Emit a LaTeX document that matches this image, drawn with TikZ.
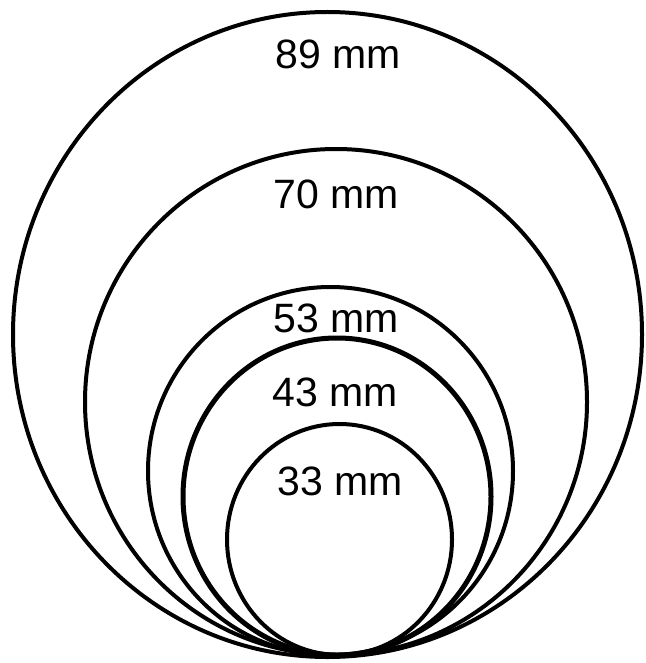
\documentclass[tikz,border=0pt]{standalone}
\usepackage{fontspec}
\setmainfont{Liberation Sans}
\begin{document}
\begin{tikzpicture}[x=1pt,y=-1pt,
  ring/.style={draw=black,line width=4pt},
  thickring/.style={draw=black,line width=5pt},
  lbl/.style={inner sep=0pt,font=\fontsize{41}{48}\selectfont}]
\useasboundingbox (0,0) rectangle (645,663);
\fill[white] (0,0) rectangle (645,663);
\draw[ring] (327.5,334.5) ellipse [x radius=314.5, y radius=322.5];
\draw[ring] (336,402) ellipse [x radius=251, y radius=253];
\draw[ring] (330.5,471) ellipse [x radius=182.5, y radius=184];
\draw[thickring] (337,496.5) ellipse [x radius=154, y radius=158.5];
\draw[ring] (339.5,539.5) ellipse [x radius=112.5, y radius=115.5];
\node[lbl] (l89) at (338,54) {89 mm};
\node[lbl] (l70) at (336,194) {70 mm};
\node[lbl] (l53) at (336,318.5) {53 mm};
\node[lbl] (l43) at (335,392.5) {43 mm};
\node[lbl] (l33) at (340,481) {33 mm};
\end{tikzpicture}
\end{document}
